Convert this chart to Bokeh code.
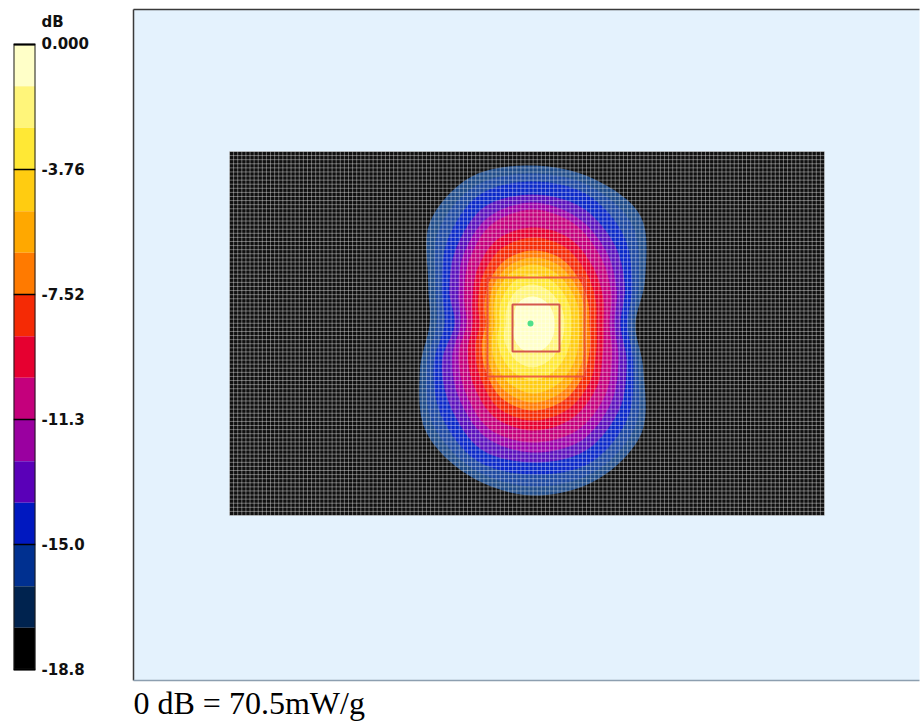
from bokeh.plotting import figure
from bokeh.layouts import row
from bokeh.models import FixedTicker
from bokeh.core.properties import value
from bokeh.embed import file_html
from bokeh.resources import INLINE
import numpy as np

# colour scale
scale_min = -18.8
scale_ticks = [0.0, -3.76, -7.52, -11.28, -15.04, -18.8]
scale_labels = ["0.000", "-3.76", "-7.52", "-11.3", "-15.0", "-18.8"]
band_colors = ["#ffffc8", "#fff57a", "#ffe835", "#ffcc11", "#ffa800", "#ff7a00", "#f52a05", "#e60030",
               "#c4007c", "#9a00a0", "#5a00b8", "#0018c0", "#003090", "#00234f", "#000000"]
caption = "0 dB = 70.5mW/g"
unit_label = "dB"
unit_label_at = 0.69

# map, in units relative to the peak
panel = dict(left=-399, right=387, top=315, bottom=-356)
scan = dict(left=-303, right=292, top=173, bottom=-191)
grid_cols = 145
grid_rows = 89
peak = (-2, 1)
zoom_box = dict(left=-45, right=52, top=47, bottom=-52)
cube_box = dict(left=-20, right=27, top=20, bottom=-27)

directions = [0, 22.5, 45, 67.5, 90, 112.5, 135, 157.5, 180, 202.5, 225, 247.5, 270, 292.5, 315, 337.5]
contour_colors = ["#1d4a88", "#1c47a0", "#0a28c8", "#5a10bc", "#9a00a8", "#c4007c", "#e60030", "#f52a05",
                  "#ff7a00", "#ffa800", "#ffcc11", "#ffe835", "#fff57a", "#ffffc8"]
contour_radii = [
    [103, 122, 153, 158, 159, 160, 145, 113, 103, 122, 151, 164, 171, 168, 154, 120],
    [100, 115, 141, 150, 151, 150, 133, 105, 96, 115, 141, 156, 162, 160, 145, 114],
    [95, 108, 128, 141, 143, 140, 120, 98, 88, 107, 129, 147, 150, 150, 134, 109],
    [88, 100, 115, 127, 130, 127, 108, 90, 78, 98, 116, 135, 138, 137, 122, 102],
    [82, 91, 104, 116, 122, 116, 98, 80, 72, 87, 104, 122, 128, 126, 111, 93],
    [77, 85, 96, 109, 115, 108, 90, 74, 66, 80, 95, 113, 118, 115, 102, 86],
    [71, 76, 84, 94, 97, 92, 78, 65, 60, 70, 84, 100, 106, 102, 90, 76],
    [64, 68, 75, 84, 87, 82, 70, 59, 53, 62, 74, 90, 96, 92, 81, 69],
    [57, 60, 65, 72, 74, 70, 61, 52, 47, 55, 66, 80, 86, 82, 72, 62],
    [53, 55, 59, 65, 67, 63, 55, 47, 43, 50, 60, 72, 78, 74, 65, 57],
    [47, 49, 52, 57, 60, 56, 49, 42, 38, 44, 53, 63, 69, 65, 57, 50],
    [39, 41, 44, 48, 50, 47, 41, 36, 33, 38, 44, 51, 56, 52, 46, 41],
    [32, 33, 35, 38, 40, 38, 33, 29, 27, 31, 35, 40, 43, 40, 36, 33],
    [22, 23, 25, 27, 28, 27, 24, 20, 18, 21, 24, 27, 28, 27, 25, 23],
]


def smooth_closed(radii, steps=8):
    """Closed Catmull-Rom outline through the read-off contour points."""
    ang = np.radians(directions)
    r = np.array(radii, float)
    pts = np.column_stack([r * np.cos(ang), r * np.sin(ang)])
    n = len(pts)
    out = []
    for i in range(n):
        p0, p1, p2, p3 = pts[(i - 1) % n], pts[i], pts[(i + 1) % n], pts[(i + 2) % n]
        for t in np.arange(steps) / steps:
            out.append(0.5 * (2 * p1 + (p2 - p0) * t + (2 * p0 - 5 * p1 + 4 * p2 - p3) * t ** 2
                              + (3 * p1 - p0 - 3 * p2 + p3) * t ** 3))
    out = np.array(out)
    return out[:, 0].tolist(), out[:, 1].tolist()


# ---------- colour bar ----------
cb = figure(width=120, height=721, x_range=(0, 1), y_range=(-20.364, 1.3235), y_axis_location="right",
            output_backend="svg", toolbar_location=None, tools="",
            min_border_left=13, min_border_right=85, min_border_top=0, min_border_bottom=0)
step = -scale_min / len(band_colors)
tops = [-step * i for i in range(len(band_colors))]
bottoms = [-step * (i + 1) for i in range(len(band_colors))]
cb.quad(left=0, right=1, top=tops, bottom=bottoms, fill_color=band_colors, line_color=None)
cb.quad(left=[0], right=[1], top=[0], bottom=[scale_min], fill_color=None, line_color="#1a1a1a", line_width=2)
cb.segment(x0=0, x1=1, y0=scale_ticks, y1=scale_ticks, line_color="#000000", line_width=1.5)
cb.xaxis.visible = False
cb.grid.visible = False
cb.outline_line_color = None
ax = cb.yaxis[0]
ax.bounds = (scale_min, 1)
ax.ticker = FixedTicker(ticks=scale_ticks + [unit_label_at])
ax.major_label_overrides = dict(zip(scale_ticks + [unit_label_at], scale_labels + [unit_label]))
ax.axis_line_color = None
ax.minor_tick_line_color = None
ax.major_tick_line_color = None
ax.major_tick_in = 0
ax.major_tick_out = 0
ax.major_label_standoff = 6
ax.major_label_text_font = "DejaVu Sans"
ax.major_label_text_font_style = "bold"
ax.major_label_text_font_size = "15px"
ax.major_label_text_color = "#111111"
cb.frame_width = 22

# ---------- map ----------
p = figure(width=800, height=721, x_range=(-412, 388), y_range=(-397, 324),
           output_backend="svg", toolbar_location=None, tools="",
           min_border=0, min_border_left=0, min_border_right=0, min_border_top=0, min_border_bottom=0)
p.axis.visible = False
p.grid.visible = False
p.outline_line_color = None
p.background_fill_color = "#ffffff"

p.quad(**panel, fill_color="#e4f2fd", line_color=None)
p.segment(x0=[panel["left"], panel["left"]], y0=[panel["top"], panel["top"]],
          x1=[panel["right"], panel["left"]], y1=[panel["top"], panel["bottom"]],
          line_color="#3a3a3a", line_width=1.5)
p.segment(x0=[panel["left"]], y0=[panel["bottom"]], x1=[panel["right"]], y1=[panel["bottom"]],
          line_color="#8d9fb0", line_width=1.5)
p.quad(**scan, fill_color="#101010", line_color=None)

xs, ys = zip(*(smooth_closed(r) for r in contour_radii))
p.patches(list(xs), list(ys), fill_color=contour_colors, line_color=None)

gx = np.linspace(scan["left"], scan["right"], grid_cols + 1)
gy = np.linspace(scan["bottom"], scan["top"], grid_rows + 1)
p.segment(x0=gx, y0=scan["bottom"], x1=gx, y1=scan["top"], line_color="#ffffff", line_alpha=0.38, line_width=1)
p.segment(x0=scan["left"], y0=gy, x1=scan["right"], y1=gy, line_color="#ffffff", line_alpha=0.38, line_width=1)

p.quad(**zoom_box, fill_color=None, line_color="#e8483f", line_width=2, line_alpha=0.85)
p.quad(**cube_box, fill_color=None, line_color="#d4564e", line_width=2)
p.scatter([peak[0]], [peak[1]], size=6, marker="circle", fill_color="#4fe08a", line_color=None)

p.text(x=[panel["left"]], y=[-378], text=[caption], text_font=value("Liberation Serif"),
       text_font_size="32px", text_color="#000000", text_align="left", text_baseline="alphabetic")

open("out.html", "w").write(file_html(row(cb, p, spacing=0), INLINE))
